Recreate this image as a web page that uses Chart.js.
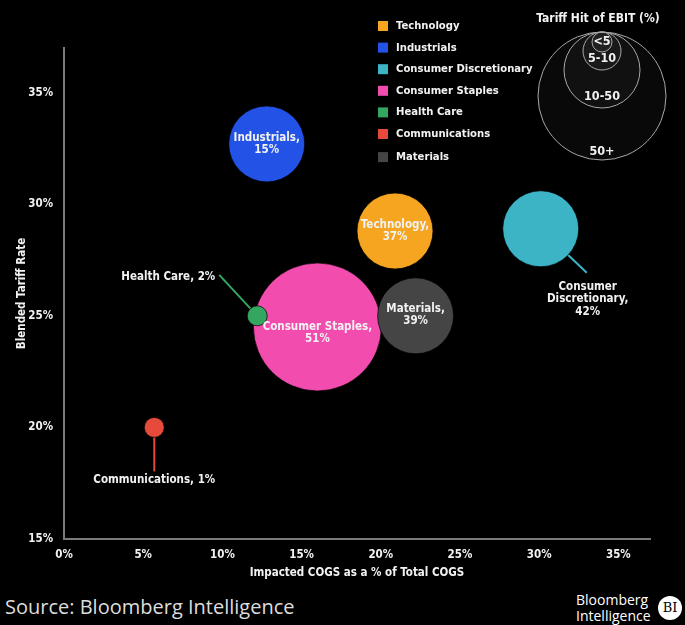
<!DOCTYPE html>
<html>
<head>
<meta charset="utf-8">
<script src="https://cdn.jsdelivr.net/npm/chart.js@4.4.1/dist/chart.umd.min.js"></script>
<style>
    html, body { margin: 0; padding: 0; background: #000; }
    body { width: 685px; height: 625px; position: relative; overflow: hidden; }
    #chart { position: absolute; left: 0; top: 0; }
    .source { position: absolute; left: 5px; top: 595px; color: #ddd; font: 20px/24px "Open Sans", sans-serif; }
    .brand { position: absolute; left: 576px; top: 592px; color: #fff; font: 14px/16px "Open Sans", sans-serif; }
    .bi { position: absolute; left: 658px; top: 596px; width: 24px; height: 24px; border-radius: 50%;
          background: #fff; color: #000; font: 13px/24px "DejaVu Serif", serif; text-align: center; }
</style>
</head>
<body>
<canvas id="chart" width="685" height="590"></canvas>
<div class="source">Source: Bloomberg Intelligence</div>
<div class="brand">Bloomberg<br>Intelligence</div>
<div class="bi">BI</div>

<script>
// Data
const sectors = ['Technology', 'Industrials', 'Consumer Discretionary', 'Consumer Staples', 'Health Care', 'Communications', 'Materials'];
const cogsShare = [20.9, 12.8, 30.1, 16.0, 12.2, 5.7, 22.2];      // x, %
const tariffRate = [28.8, 32.7, 28.9, 24.5, 25.0, 20.0, 25.0];    // y, %
const ebitHit = [37, 15, 42, 51, 2, 1, 39];                       // tariff hit of EBIT, %
const xTicks = [0, 5, 10, 15, 20, 25, 30, 35];
const yTicks = [15, 20, 25, 30, 35];
const ebitBuckets = ['<5', '5-10', '10-50', '50+'];
const bucketLimits = [5, 10, 50];

// Styles
const colors = ['#F5A51F', '#2352E6', '#3CB4C6', '#F24DAE', '#34A660', '#E54A3B', '#454545'];
const bucketRadius = [10, 19, 38, 64];
const FONT = '"DejaVu Sans Condensed", "DejaVu Sans", sans-serif';
const TEXT = '#f2f2f2';

function bucketOf(v) {
    let i = 0;
    while (i < bucketLimits.length && v >= bucketLimits[i]) i++;
    return i;
}

// where each sector's label goes (pixel offsets from bubble centre)
const labelPlacement = {
    'Technology': { mode: 'inside', dy: 0 },
    'Industrials': { mode: 'inside', dy: 0 },
    'Consumer Discretionary': { mode: 'stack', lineTo: [46, 44], at: [47, 58], align: 'center' },
    'Consumer Staples': { mode: 'inside', dy: 6 },
    'Health Care': { mode: 'single', lineTo: [-38, -41], at: [-42, -39], align: 'right' },
    'Communications': { mode: 'single', lineTo: [0, 44], at: [0, 53], align: 'center' },
    'Materials': { mode: 'inside', dy: -1 }
};

const sectorLabels = {
    id: 'sectorLabels',
    beforeDatasetsDraw(chart) {
        const ctx = chart.ctx;
        ctx.save();
        chart.data.datasets.forEach((ds, i) => {
            const p = labelPlacement[ds.label];
            if (!p.lineTo) return;
            const el = chart.getDatasetMeta(i).data[0];
            ctx.strokeStyle = ds.backgroundColor;
            ctx.lineWidth = 2;
            ctx.beginPath();
            ctx.moveTo(el.x, el.y);
            ctx.lineTo(el.x + p.lineTo[0], el.y + p.lineTo[1]);
            ctx.stroke();
        });
        ctx.restore();
    },
    afterDatasetsDraw(chart) {
        const ctx = chart.ctx;
        ctx.save();
        ctx.font = `bold 11.5px ${FONT}`;
        ctx.fillStyle = TEXT;
        ctx.textBaseline = 'middle';
        chart.data.datasets.forEach((ds, i) => {
            const p = labelPlacement[ds.label];
            const el = chart.getDatasetMeta(i).data[0];
            const pct = ebitHit[i] + '%';
            let lines, x, y;
            if (p.mode === 'inside') {
                lines = [ds.label + ',', pct];
                x = el.x; y = el.y + p.dy;
                ctx.textAlign = 'center';
            } else if (p.mode === 'stack') {
                const words = ds.label.split(' ');
                words[words.length - 1] += ',';
                lines = words.concat(pct);
                x = el.x + p.at[0]; y = el.y + p.at[1] + (lines.length - 1) * 6.3;
                ctx.textAlign = p.align;
            } else {
                lines = [ds.label + ', ' + pct];
                x = el.x + p.at[0]; y = el.y + p.at[1];
                ctx.textAlign = p.align;
            }
            const h = 12.6;
            lines.forEach((t, k) => {
                ctx.fillText(t, x, y + (k - (lines.length - 1) / 2) * h);
            });
        });
        ctx.restore();
    },
    afterDraw(chart) {
        const ctx = chart.ctx;
        ctx.save();
        ctx.font = `bold 11.2px ${FONT}`;
        ctx.textBaseline = 'middle';
        ctx.textAlign = 'left';
        // sector legend
        sectors.forEach((s, i) => {
            const y = 26 + i * 21.6 + (i === sectors.length - 1 ? 1.5 : 0);
            ctx.fillStyle = colors[i];
            ctx.fillRect(378, y - 5, 10, 10);
            ctx.fillStyle = TEXT;
            ctx.fillText(s, 396, y);
        });
        // size legend
        const cx = 602, top = 32;
        ctx.textAlign = 'center';
        ctx.fillStyle = TEXT;
        ctx.font = `bold 12px ${FONT}`;
        ctx.fillText('Tariff Hit of EBIT (%)', 598, 19);
        for (let b = ebitBuckets.length - 1; b >= 0; b--) {
            const r = bucketRadius[b];
            ctx.beginPath();
            ctx.arc(cx, top + r, r, 0, Math.PI * 2);
            ctx.fillStyle = 'rgba(255,255,255,0.035)';
            ctx.fill();
            ctx.strokeStyle = '#a8a8a8';
            ctx.lineWidth = 1;
            ctx.stroke();
        }
        ctx.fillStyle = TEXT;
        ctx.font = `bold 12.5px ${FONT}`;
        ebitBuckets.forEach((t, b) => {
            const r = bucketRadius[b];
            const y = b === 0 ? top + r : top + 2 * r - (b === 3 ? 8 : 11);
            ctx.fillText(t, cx, y);
        });
        ctx.restore();
    }
};

const datasets = sectors.map((s, i) => ({
    label: s,
    data: [{ x: cogsShare[i], y: tariffRate[i], r: bucketRadius[bucketOf(ebitHit[i])] }],
    backgroundColor: colors[i],
    borderColor: 'rgba(0,0,0,0.7)',
    borderWidth: 1,
    order: (s === 'Health Care' || s === 'Materials') ? -1 : 0,
    clip: false
}));

const tickFont = { family: FONT, size: 11.5, weight: 'bold' };

new Chart(document.getElementById('chart'), {
    type: 'bubble',
    data: { datasets: datasets },
    options: {
        responsive: false,
        animation: false,
        events: [],
        layout: { autoPadding: false, padding: { top: 48, right: 35, left: 0, bottom: 0 } },
        plugins: { legend: { display: false }, tooltip: { enabled: false } },
        scales: {
            x: {
                type: 'linear', min: 0, max: 37,
                grid: { display: false },
                border: { color: '#7a7a7a', width: 2 },
                afterBuildTicks: s => { s.ticks = xTicks.map(v => ({ value: v })); },
                afterFit: s => { s.height = 51; },
                ticks: { color: TEXT, font: tickFont, padding: 1, maxRotation: 0, callback: v => v + '%' },
                title: { display: true, text: 'Impacted COGS as a % of Total COGS', color: TEXT,
                         font: tickFont, padding: { top: 0, bottom: 10 } }
            },
            y: {
                type: 'linear', min: 15, max: 37,
                grid: { display: false },
                border: { color: '#7a7a7a', width: 2 },
                afterBuildTicks: s => { s.ticks = yTicks.map(v => ({ value: v })); },
                afterFit: s => { s.width = 64; },
                ticks: { color: TEXT, font: tickFont, padding: 3, callback: v => v + '%' },
                title: { display: true, text: 'Blended Tariff Rate', color: TEXT,
                         font: tickFont, padding: { top: 15, bottom: 0 } }
            }
        }
    },
    plugins: [sectorLabels]
});
</script>
</body>
</html>
